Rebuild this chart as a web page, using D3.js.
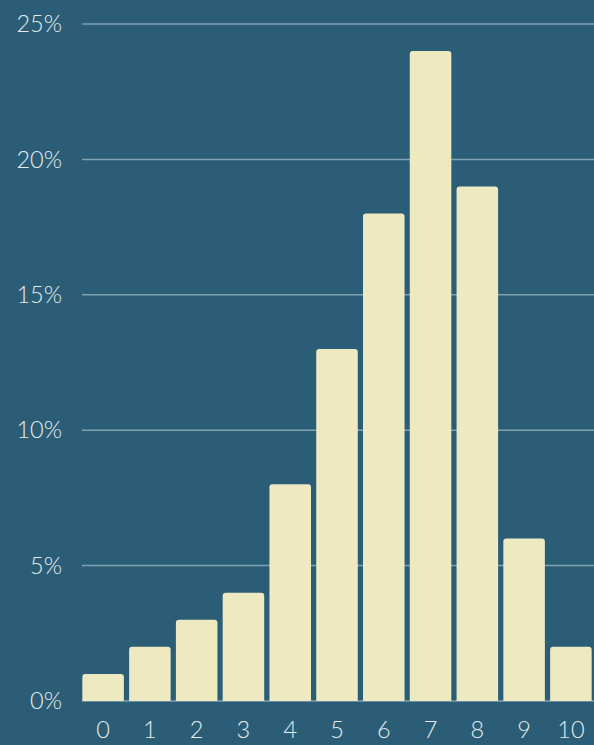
<!DOCTYPE html>
<html>
<head>
<meta charset="utf-8">
<script src="https://cdn.jsdelivr.net/npm/d3@7"></script>
<style>
  html, body { margin: 0; padding: 0; background: #2b5e76; }
  svg { display: block; }
  text { font-family: Lato, "Open Sans", sans-serif; font-weight: 300; fill: #e4ebee; }
</style>
</head>
<body>
<svg id="chart"></svg>
<script>
const WIDTH = 594;
const HEIGHT = 745;
const MARGIN = { top: 24, right: 0, bottom: 44, left: 80 };

// data
const categories = ['0', '1', '2', '3', '4', '5', '6', '7', '8', '9', '10'];
const shares = [1, 2, 3, 4, 8, 13, 18, 24, 19, 6, 2];
const yTicks = [0, 5, 10, 15, 20, 25];

const svg = d3.select('#chart')
  .attr('width', WIDTH)
  .attr('height', HEIGHT);

const x = d3.scaleBand()
  .domain(categories)
  .range([MARGIN.left, WIDTH - MARGIN.right])
  .paddingInner(0.112)
  .paddingOuter(0.05);

const y = d3.scaleLinear()
  .domain([0, 25])
  .range([HEIGHT - MARGIN.bottom, MARGIN.top]);

// grid
svg.append('g')
  .selectAll('line')
  .data(yTicks)
  .join('line')
  .attr('x1', x.range()[0] + 2)
  .attr('x2', WIDTH)
  .attr('y1', d => y(d))
  .attr('y2', d => y(d))
  .attr('stroke', '#7fa2b2')
  .attr('stroke-width', 1.5);

// y labels
svg.append('g')
  .selectAll('text')
  .data(yTicks)
  .join('text')
  .attr('x', 62)
  .attr('y', d => y(d))
  .attr('dy', '0.35em')
  .attr('text-anchor', 'end')
  .attr('font-size', 23.5)
  .text(d => d + '%');

// bars with rounded top corners
const r = 3;
svg.append('g')
  .selectAll('path')
  .data(shares)
  .join('path')
  .attr('fill', '#edeac1')
  .attr('d', (d, i) => {
    const x0 = x(categories[i]);
    const w = x.bandwidth();
    const y0 = y(d);
    const yb = y(0);
    return `M${x0},${yb}V${y0 + r}Q${x0},${y0} ${x0 + r},${y0}` +
      `H${x0 + w - r}Q${x0 + w},${y0} ${x0 + w},${y0 + r}V${yb}Z`;
  });

// x labels
svg.append('g')
  .selectAll('text')
  .data(categories)
  .join('text')
  .attr('x', d => x(d) + x.bandwidth() / 2)
  .attr('y', HEIGHT - 15)
  .attr('dy', '0.35em')
  .attr('text-anchor', 'middle')
  .attr('font-size', 23.5)
  .text(d => d);
</script>
</body>
</html>
